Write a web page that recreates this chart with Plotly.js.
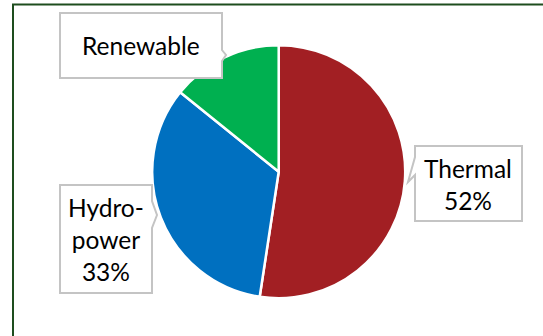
<!DOCTYPE html>
<html>
<head>
<meta charset="utf-8">
<script src="https://cdn.plot.ly/plotly-3.0.1.min.js"></script>
<style>html,body{margin:0;padding:0;background:#fff;}#chart{width:543px;height:336px;}</style>
</head>
<body>
<div id="chart"></div>
<script>
// ---- data ----
const categories = ["Thermal", "Hydropower", "Renewable"];
const values = [52.4, 33.4, 14.2];
const displayNames = ["Thermal", "Hydro-<br>power", "Renewable"];
const showPercent = [true, true, false];
const colors = ["#A21F23", "#0070C0", "#00B050"];

// ---- layout helpers ----
const W = 543, H = 336;
const px = x => x / W;
const py = y => 1 - y / H;

const total = values.reduce((a, b) => a + b, 0);
const labelText = categories.map((c, i) =>
  displayNames[i] + (showPercent[i] ? "<br>" + Math.round(values[i] / total * 100) + "%" : ""));

// callout boxes (pixel geometry): [left, top, right, bottom], tail side and points
const boxes = [
  {l: 415, t: 146, r: 522, b: 221, side: "left", a: 157, z: 175, tip: [408, 182], cx: 468, cy: 184},
  {l: 60, t: 185, r: 152, b: 293, side: "right", a: 201, z: 228, tip: [157, 215], cx: 106, cy: 239},
  {l: 60, t: 13, r: 222, b: 78, side: "right", a: 50, z: 61, tip: [226, 55], cx: 141, cy: 46}
];

function boxPath(bx) {
  const P = (x, y) => px(x).toFixed(5) + "," + py(y).toFixed(5);
  let pts;
  if (bx.side === "left") {
    pts = [[bx.l, bx.t], [bx.r, bx.t], [bx.r, bx.b], [bx.l, bx.b], [bx.l, bx.z], bx.tip, [bx.l, bx.a]];
  } else {
    pts = [[bx.l, bx.t], [bx.r, bx.t], [bx.r, bx.a], bx.tip, [bx.r, bx.z], [bx.r, bx.b], [bx.l, bx.b]];
  }
  return "M" + pts.map(p => P(p[0], p[1])).join("L") + "Z";
}

const shapes = boxes.map(bx => ({
  type: "path", xref: "paper", yref: "paper", path: boxPath(bx),
  line: {color: "#C4C4C4", width: 2}, fillcolor: "#FFFFFF", layer: "above"
}));
// outer chart border
shapes.push({
  type: "rect", xref: "paper", yref: "paper",
  x0: px(13), x1: px(600), y0: py(400), y1: py(4.5),
  line: {color: "#1E4D1E", width: 2}, layer: "below"
});

const annotations = boxes.map((bx, i) => ({
  xref: "paper", yref: "paper", x: px(bx.cx), y: py(bx.cy),
  xanchor: "center", yanchor: "middle", showarrow: false,
  text: labelText[i], align: "center",
  font: {family: "Lato, sans-serif", size: 24.5, color: "#000000"}
}));

const cx = 278.7, cy = 171.7, R = 126.5;

const data = [{
  type: "pie",
  labels: categories,
  values: values,
  sort: false,
  direction: "clockwise",
  rotation: 0,
  textinfo: "none",
  hoverinfo: "none",
  marker: {colors: colors, line: {color: "#FFFFFF", width: 2.5}},
  domain: {x: [px(cx - R), px(cx + R)], y: [py(cy + R), py(cy - R)]},
  showlegend: false
}];

const layout = {
  width: W, height: H,
  margin: {l: 0, r: 0, t: 0, b: 0},
  paper_bgcolor: "#FFFFFF",
  showlegend: false,
  shapes: shapes,
  annotations: annotations
};

Plotly.newPlot("chart", data, layout, {displayModeBar: false, staticPlot: true});
</script>
</body>
</html>
